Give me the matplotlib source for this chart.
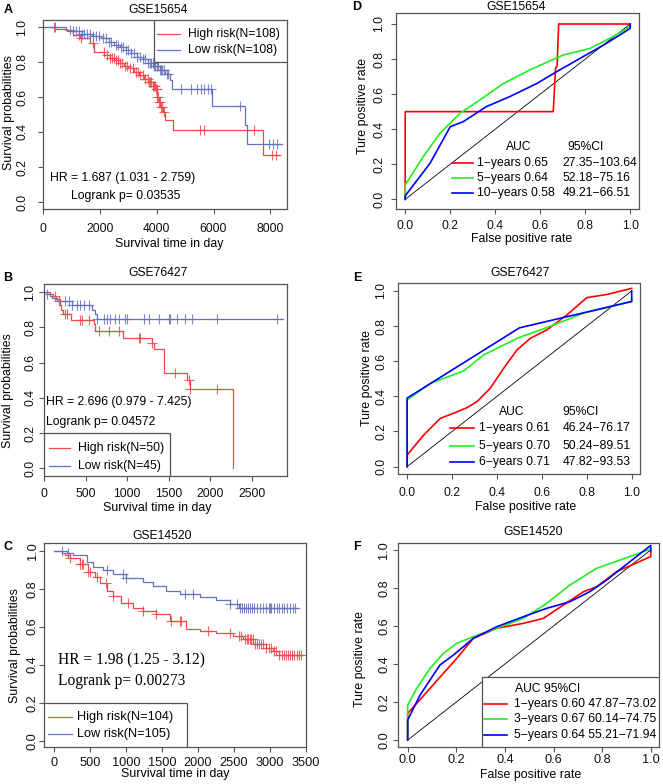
import numpy as np
import matplotlib.pyplot as plt
from matplotlib.patches import Rectangle

plt.rcParams['font.family'] = ['Liberation Sans', 'DejaVu Sans']

# ---- data ----
# A: GSE15654 Kaplan-Meier
a_hi_t = [0, 420, 830, 1060, 1300, 1660, 1780, 2150, 2350, 2500, 2700, 2850, 3000, 3200, 3380,
          3550, 3700, 3850, 3950, 4000, 4080, 4130, 4220, 4300, 4580, 7750, 8300]
a_hi_s = [1.0, 0.99, 0.975, 0.955, 0.935, 0.91, 0.855, 0.84, 0.825, 0.81, 0.795, 0.78, 0.765, 0.745, 0.725,
          0.705, 0.685, 0.665, 0.645, 0.60, 0.57, 0.545, 0.515, 0.47, 0.41, 0.27, 0.27]
a_hi_c = [370, 1250, 1330, 1750, 2130, 2250, 2350, 2420, 2480, 2560, 2650, 2700, 2780, 2870, 2950, 3050,
          3150, 3250, 3330, 3420, 3520, 3600, 3680, 3720, 3760, 3800, 3850, 3900, 3930, 3960, 3990,
          4020, 4050, 4090, 4120, 4150, 4200, 4260, 5530, 5650, 7410, 8050, 8200]
a_lo_t = [0, 800, 1000, 1350, 1700, 2050, 2300, 2500, 2700, 2900, 3100, 3300, 3500, 3700, 3900,
          4100, 4300, 4450, 4550, 5950, 7100, 7190, 8400]
a_lo_s = [1.0, 0.985, 0.975, 0.96, 0.95, 0.935, 0.915, 0.90, 0.885, 0.87, 0.85, 0.83, 0.815, 0.795, 0.775,
          0.755, 0.73, 0.70, 0.645, 0.55, 0.44, 0.33, 0.33]
a_lo_c = [420, 950, 1050, 1150, 1250, 1350, 1450, 1550, 1650, 1750, 1850, 1950, 2100, 2200, 2300, 2400,
          2550, 2650, 2750, 2800, 2900, 3000, 3100, 3200, 3300, 3400, 3500, 3600, 3700, 3750, 3800, 3850,
          3900, 3950, 4000, 4050, 4100, 4150, 4200, 4250, 4350, 4400, 4850, 5200, 5400, 5550, 5650, 5800,
          5900, 6950, 7950, 8100, 8250]

# B: GSE76427
b_hi_t = [0, 66, 105, 145, 184, 203, 223, 320, 594, 613, 945, 1297, 1317, 1438, 1719, 1751, 2281]
b_hi_s = [1.0, 0.99, 0.98, 0.96, 0.93, 0.90, 0.875, 0.84, 0.82, 0.78, 0.74, 0.71, 0.68, 0.54, 0.50, 0.45, 0.0]
b_hi_c = [133, 253, 273, 434, 454, 534, 655, 775, 896, 1137, 1157, 1297, 1578, 1739, 1759, 2078]
b_lo_t = [0, 32, 72, 92, 153, 333, 574, 614, 635, 2884]
b_lo_s = [1.0, 0.99, 0.98, 0.97, 0.95, 0.93, 0.90, 0.875, 0.847, 0.847]
b_lo_c = [32, 173, 253, 293, 333, 394, 434, 474, 534, 635, 715, 755, 795, 855, 896, 976, 996, 1197,
          1257, 1378, 1498, 1518, 1598, 1699, 1779, 2078, 2803]

# C: GSE14520
c_hi_t = [0, 106, 152, 222, 360, 475, 568, 637, 730, 822, 937, 1099, 1237, 1422, 1607, 1838, 2022,
          2253, 2484, 2622, 2761, 2946, 3038, 3130, 3440]
c_hi_s = [1.0, 0.99, 0.98, 0.96, 0.93, 0.89, 0.86, 0.83, 0.79, 0.76, 0.725, 0.70, 0.685, 0.665, 0.63,
          0.59, 0.575, 0.565, 0.55, 0.535, 0.51, 0.49, 0.47, 0.45, 0.45]
c_hi_c = [222, 360, 385, 406, 475, 498, 591, 720, 822, 1030, 1237, 1422, 1630, 1745, 1768, 2137, 2438,
          2576, 2600, 2650, 2680, 2700, 2720, 2740, 2760, 2790, 2820, 2850, 2880, 2900, 2946, 2980,
          3010, 3050, 3084, 3130, 3160, 3190, 3220, 3250, 3280, 3310, 3340, 3370, 3400, 3430]
c_lo_t = [0, 175, 268, 453, 545, 683, 822, 1006, 1237, 1376, 1560, 1745, 2022, 2253, 2438, 2576, 3380]
c_lo_s = [1.0, 0.99, 0.975, 0.94, 0.915, 0.90, 0.875, 0.855, 0.835, 0.815, 0.79, 0.77, 0.755, 0.74,
          0.72, 0.70, 0.70]
c_lo_c = [106, 198, 730, 960, 1006, 1814, 1930, 2438, 2540, 2580, 2610, 2640, 2660, 2690, 2720, 2750,
          2780, 2820, 2860, 2900, 2950, 2980, 3000, 3020, 3060, 3100, 3130, 3160, 3200, 3240, 3280,
          3320, 3350]

# D: GSE15654 ROC
d_r_x = [0, 0, 0.658, 0.668, 0.675, 0.682, 1.0]
d_r_y = [0, 0.5, 0.5, 0.747, 0.76, 1.0, 1.0]
d_g_x = [0, 0, 0.08, 0.154, 0.243, 0.332, 0.436, 0.554, 0.702, 0.82, 0.924, 1.0, 1.0]
d_g_y = [0, 0.082, 0.243, 0.376, 0.49, 0.567, 0.66, 0.738, 0.823, 0.86, 0.928, 0.985, 1.0]
d_b_x = [0, 0, 0.11, 0.2, 0.258, 0.361, 0.465, 0.584, 0.673, 0.791, 0.895, 1.0, 1.0]
d_b_y = [0, 0.02, 0.205, 0.414, 0.443, 0.529, 0.586, 0.66, 0.728, 0.814, 0.89, 0.975, 1.0]

# E: GSE76427 ROC
e_r_x = [0, 0, 0.074, 0.148, 0.207, 0.267, 0.311, 0.37, 0.43, 0.489, 0.548, 0.622, 0.711, 0.8, 0.889, 1.0]
e_r_y = [0, 0.066, 0.18, 0.275, 0.304, 0.336, 0.37, 0.446, 0.56, 0.664, 0.73, 0.778, 0.863, 0.962, 0.98, 1.015]
e_g_x = [0, 0, 0.104, 0.252, 0.341, 0.496, 0.607, 0.785, 1.0, 1.0]
e_g_y = [0, 0.38, 0.474, 0.545, 0.636, 0.734, 0.784, 0.873, 0.94, 0.96]
e_b_x = [0, 0, 0.5, 1.0, 1.0]
e_b_y = [0, 0.39, 0.79, 0.94, 1.0]

# F: GSE14520 ROC
f_r_x = [0, 0, 0.092, 0.202, 0.27, 0.366, 0.476, 0.558, 0.64, 0.723, 0.778, 0.86, 1.0, 1.0]
f_r_y = [0, 0.14, 0.272, 0.43, 0.535, 0.588, 0.614, 0.64, 0.71, 0.78, 0.807, 0.886, 0.965, 1.0]
f_g_x = [0, 0, 0.037, 0.092, 0.147, 0.202, 0.27, 0.366, 0.476, 0.572, 0.668, 0.778, 0.874, 1.0]
f_g_y = [0, 0.184, 0.272, 0.377, 0.456, 0.509, 0.544, 0.588, 0.64, 0.719, 0.816, 0.904, 0.947, 1.005]
f_b_x = [0, 0, 0.051, 0.133, 0.188, 0.27, 0.366, 0.476, 0.572, 0.668, 0.75, 0.819, 0.915, 1.0, 1.0]
f_b_y = [0, 0.105, 0.237, 0.395, 0.447, 0.535, 0.596, 0.649, 0.693, 0.728, 0.781, 0.842, 0.939, 1.024, 0.995]

d_rows = [("1\u2212years 0.65", "27.35\u2212103.64"), ("5\u2212years 0.64", "52.18\u221275.16"),
          ("10\u2212years 0.58", "49.21\u221266.51")]
e_rows = [("1\u2212years 0.61", "46.24\u221276.17"), ("5\u2212years 0.70", "50.24\u221289.51"),
          ("6\u2212years 0.71", "47.82\u221293.53")]
f_rows = ["1\u2212years 0.60 47.87\u221273.02", "3\u2212years 0.67 60.14\u221274.75",
          "5\u2212years 0.64 55.21\u221271.94"]

KM_RED = '#ee4a4a'
KM_BLUE = '#6672bd'
ROC_COLS = ['#ff0000', '#22ee22', '#0000ff']
GRAY = '#555555'

W, H = 663, 784
fig = plt.figure(figsize=(W / 100, H / 100), dpi=100)


def px_axes(l, t, r, b):
    return fig.add_axes([l / W, 1 - b / H, (r - l) / W, (b - t) / H])


def ftext(x, y, s, **kw):
    kw.setdefault('ha', 'center')
    kw.setdefault('va', 'center')
    fig.text(x / W, 1 - y / H, s, **kw)


def style(ax, xticks, xlim, ylim, xpad, ypad, fs=8.7, yticks=(0, 0.2, 0.4, 0.6, 0.8, 1.0), xfmt='{:g}'):
    ax.set_xlim(xlim)
    ax.set_ylim(ylim)
    ax.set_xticks(xticks)
    ax.set_xticklabels([xfmt.format(v) for v in xticks])
    ax.set_yticks(yticks)
    ax.set_yticklabels(['{:.1f}'.format(v) for v in yticks], rotation=90, va='center')
    for sp in ax.spines.values():
        sp.set_color(GRAY)
        sp.set_linewidth(0.9)
    ax.tick_params(length=3.8, width=0.8, color=GRAY, labelsize=fs, labelcolor='#111111')
    ax.tick_params(axis='x', pad=xpad)
    ax.tick_params(axis='y', pad=ypad)


def km(ax, t, s, cens, color):
    t = np.asarray(t, float)
    s = np.asarray(s, float)
    ax.step(t, s, where='post', color=color, lw=0.9)
    idx = np.searchsorted(t, cens, side='right') - 1
    ax.plot(cens, s[idx], '+', color=color, ms=7, mew=0.8, alpha=0.85)


def km_legend(ax, x0, x1, y0, y1, lx0, lx1, tx, rows, labels, fs):
    ax.add_patch(Rectangle((x0, y0), x1 - x0, y1 - y0, facecolor='white', edgecolor=GRAY,
                           lw=0.9, zorder=5))
    for ry, lab, col in zip(rows, labels, [KM_RED, KM_BLUE]):
        ax.plot([lx0, lx1], [ry, ry], color=col, lw=0.9, zorder=6)
        ax.text(tx, ry, lab, fontsize=fs, va='center', ha='left', zorder=6)


# ---------------- A ----------------
ax = px_axes(43.3, 20, 287.3, 209)
km(ax, a_hi_t, a_hi_s, a_hi_c, KM_RED)
km(ax, a_lo_t, a_lo_s, a_lo_c, KM_BLUE)
style(ax, [0, 2000, 4000, 6000, 8000], (0, 8600), (-0.04, 1.04), 6.5, 6.9)
km_legend(ax, 3913, 8600, 0.80, 1.04, 4025, 4830, 5088, [0.962, 0.871],
          ["High risk(N=108)", "Low risk(N=108)"], 8.7)
ax.text(250, 0.137, "HR = 1.687 (1.031 - 2.759)", fontsize=8.8, va='center')
ax.text(990, 0.032, "Logrank p= 0.03535", fontsize=8.8, va='center')

# ---------------- B ----------------
ax = px_axes(44.3, 284.3, 287.3, 475.7)
km(ax, b_hi_t, b_hi_s, b_hi_c, KM_RED)
km(ax, b_lo_t, b_lo_s, b_lo_c, KM_BLUE)
style(ax, [0, 500, 1000, 1500, 2000, 2500], (0, 2930), (-0.042, 1.045), 5.3, 1.9)
km_legend(ax, 0, 1518, -0.042, 0.199, 52, 313, 405, [0.114, 0.015],
          ["High risk(N=50)", "Low risk(N=45)"], 8.8)
ax.text(24, 0.379, "HR = 2.696 (0.979 - 7.425)", fontsize=8.8, va='center')
ax.text(24, 0.265, "Logrank p= 0.04572", fontsize=8.8, va='center')

# ---------------- C ----------------
ax = px_axes(44.3, 543.3, 306, 747.3)
km(ax, c_hi_t, c_hi_s, c_hi_c, KM_RED)
km(ax, c_lo_t, c_lo_s, c_lo_c, KM_BLUE)
style(ax, [0, 500, 1000, 1500, 2000, 2500, 3000, 3500], (-134, 3490), (-0.035, 1.039), 2.9, 0.3, fs=9.2)
km_legend(ax, -134, 1851, -0.035, 0.2, -78, 245, 323, [0.126, 0.035],
          ["High risk(N=104)", "Low risk(N=105)"], 9.2)
ax.text(60, 0.421, "HR = 1.98 (1.25 - 3.12)", fontsize=11.2, va='center', family='Liberation Serif')
ax.text(60, 0.316, "Logrank p= 0.00273", fontsize=11.2, va='center', family='Liberation Serif')


# ---------------- ROC panels ----------------
def roc(ax, curves):
    ax.plot([0, 1], [0, 1], color='black', lw=0.6)
    for (xs, ys), col in zip(curves, ROC_COLS):
        ax.plot(xs, ys, color=col, lw=1.2)


def roc_legend(ax, hx_auc, hx_ci, hy, rows_y, lx0, lx1, tx, cx, rows, fs=8.7):
    ax.text(hx_auc, hy, "AUC", fontsize=fs, va='center', ha='left')
    ax.text(hx_ci, hy, "95%CI", fontsize=fs, va='center', ha='left')
    for ry, (a, c), col in zip(rows_y, rows, ROC_COLS):
        ax.plot([lx0, lx1], [ry, ry], color=col, lw=1.2)
        ax.text(tx, ry, a, fontsize=fs, va='center', ha='left')
        ax.text(cx, ry, c, fontsize=fs, va='center', ha='left')


ticks01 = [0, 0.2, 0.4, 0.6, 0.8, 1.0]

ax = px_axes(396, 13.3, 639, 209.3)
roc(ax, [(d_r_x, d_r_y), (d_g_x, d_g_y), (d_b_x, d_b_y)])
style(ax, ticks01, (-0.041, 1.039), (-0.057, 1.061), 3.8, 4.1, xfmt='{:.1f}')
roc_legend(ax, 0.447, 0.72, 0.30, [0.205, 0.124, 0.034], 0.206, 0.302, 0.317, 0.698, d_rows)

ax = px_axes(397.7, 282.7, 640, 474)
roc(ax, [(e_r_x, e_r_y), (e_g_x, e_g_y), (e_b_x, e_b_y)])
style(ax, ticks01, (-0.042, 1.037), (-0.042, 1.047), 5.3, 3.5, xfmt='{:.1f}')
roc_legend(ax, 0.407, 0.692, 0.313, [0.222, 0.12, 0.025], 0.193, 0.296, 0.321, 0.692, e_rows)

ax = px_axes(397.7, 543.3, 659, 747.3)
roc(ax, [(f_r_x, f_r_y), (f_g_x, f_g_y), (f_b_x, f_b_y)])
style(ax, ticks01, (-0.041, 1.034), (-0.038, 1.035), 0.8, 1.7, fs=9.2, xfmt='{:.1f}')
ax.add_patch(Rectangle((0.307, -0.038), 1.034 - 0.307, 0.33 + 0.038, facecolor='white',
                       edgecolor=GRAY, lw=0.9, zorder=5))
ax.text(0.442, 0.268, "AUC 95%CI", fontsize=8.7, va='center', ha='left', zorder=6)
for ry, lab, col in zip([0.188, 0.111, 0.026], f_rows, ROC_COLS):
    ax.plot([0.316, 0.407], [ry, ry], color=col, lw=1.2, zorder=6)
    ax.text(0.439, ry, lab, fontsize=8.7, va='center', ha='left', zorder=6)

# ---------------- figure texts ----------------
for x, y, s in [(158, 10, "GSE15654"), (516, 7, "GSE15654"), (158.5, 273, "GSE76427"),
                (520, 273, "GSE76427"), (161.7, 536, "GSE14520"), (533, 532, "GSE14520")]:
    ftext(x, y, s, fontsize=8.7)
for x, y, s in [(8, 10, "A"), (357, 7.5, "D"), (8, 278, "B"), (357, 278, "E"),
                (8, 547, "C"), (357, 547, "F")]:
    ftext(x, y, s, fontsize=9, fontweight='bold')
for x, y, s in [(169, 244, "Survival time in day"), (521.7, 239.3, "False positive rate"),
                (157.5, 508, "Survival time in day"), (525.8, 507.3, "False positive rate"),
                (175, 774, "Survival time in day"), (530.8, 775, "False positive rate")]:
    ftext(x, y, s, fontsize=8.9)
for x, y, s in [(9, 112.5, "Survival probabilities"), (363.3, 106, "Ture positive rate"),
                (8.5, 390.7, "Survival probabilities"), (366.7, 378.3, "Ture positive rate"),
                (15, 645.8, "Survival probabilities"), (360, 659.2, "Ture positive rate")]:
    ftext(x, y, s, fontsize=8.9, rotation=90)

fig.savefig('out.png', dpi=100)
